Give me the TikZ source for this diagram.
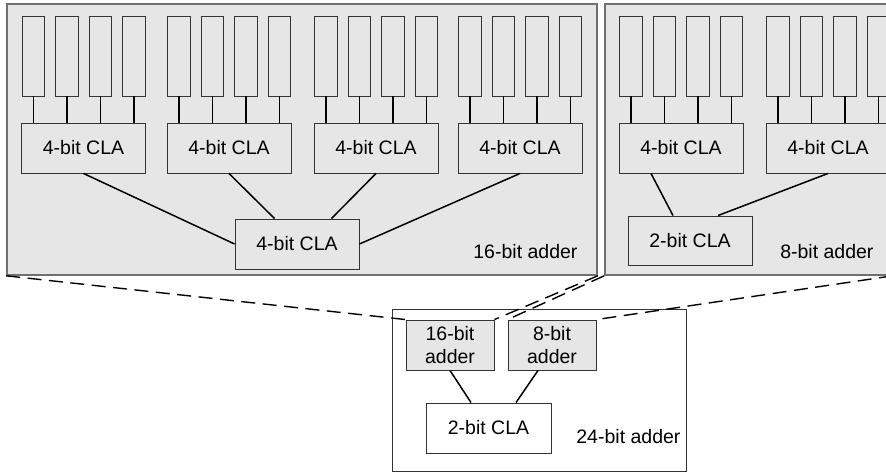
\documentclass[tikz,border=0pt]{standalone}
\usepackage{fontspec}
\setmainfont{Liberation Sans}
\usepackage{xcolor}
\usepackage{tikz}
\usetikzlibrary{shapes,arrows,positioning}

\definecolor{adderfill}{HTML}{E6E6E6}
\definecolor{adderline}{HTML}{707070}
\definecolor{cellline}{HTML}{333333}

\begin{document}
\begin{tikzpicture}[x=1pt, y=-1pt, font=\fontsize{19.5}{23}\selectfont]
    % Define styles
    \tikzstyle{adder} = [rectangle, draw=adderline, line width=1.6pt, fill=adderfill, inner sep=0pt]
    \tikzstyle{cla} = [rectangle, minimum width=124pt, minimum height=50pt, text centered, draw=cellline, line width=0.9pt, fill=adderfill]
    \tikzstyle{bitcell} = [rectangle, minimum width=22.5pt, minimum height=80pt, draw=cellline, line width=0.9pt, fill=adderfill, inner sep=0pt]
    \tikzstyle{sub} = [rectangle, minimum width=88pt, minimum height=50pt, align=center, draw=cellline, line width=0.9pt, fill=adderfill, inner sep=0pt]
    \tikzstyle{wire} = [draw=black, line width=1.5pt]
    \tikzstyle{zoomline} = [draw=black, line width=1.4pt, dash pattern=on 14pt off 7.5pt]

    \path[use as bounding box, clip] (0,0) rectangle (886,472);

    % Adders
    \node[adder, minimum width=590pt, minimum height=271pt] (adder16) at (302,139.5) {};
    \node[adder, minimum width=287pt, minimum height=271pt] (adder8) at (748.5,139.5) {};
    \node[rectangle, draw=cellline, line width=0.9pt, minimum width=294pt, minimum height=162pt] (adder24) at (539,390) {};

    % 4-bit CLA blocks
    \node[cla] (cla_a) at (83.5,148) {4-bit CLA};
    \node[cla] (cla_b) at (229,148) {4-bit CLA};
    \node[cla] (cla_c) at (376,148) {4-bit CLA};
    \node[cla] (cla_d) at (520,148) {4-bit CLA};
    \node[cla] (cla_e) at (681,148) {4-bit CLA};
    \node[cla] (cla_f) at (828,148) {4-bit CLA};

    % Bit cells
    \foreach \g in {a,b,c,d,e,f} {
        \foreach \i/\dx in {1/-50.25, 2/-16.75, 3/16.75, 4/50.25} {
            \node[bitcell] (bit_\g\i) at ([xshift=\dx pt]cla_\g.center |- 0,56) {};
            \draw[wire] (bit_\g\i) -- (bit_\g\i |- cla_\g.north);
        }
    }

    % Second level
    \node[cla] (cla16) at (297,244) {4-bit CLA};
    \node[cla, minimum height=49pt] (cla8) at (690,240.5) {2-bit CLA};
    \node[left] (label16) at (581,252) {16-bit adder};
    \node[left] (label8) at (877,252) {8-bit adder};

    % 24-bit adder
    \node[sub] (sub16) at (450,345) {16-bit\\adder};
    \node[sub] (sub8) at (552,345) {8-bit\\adder};
    \node[cla, fill=white, minimum width=125pt] (cla24) at (488.5,428) {2-bit CLA};
    \node[left] (label24) at (684,437) {24-bit adder};

    % Connections
    \draw[wire] (cla_a.south) -- (cla16.west);
    \draw[wire] (cla_b.south) -- ([xshift=40pt]cla16.north west);
    \draw[wire] (cla_c.south) -- ([xshift=-28pt]cla16.north east);
    \draw[wire] (cla_d.south) -- (cla16.east);
    \draw[wire] ([xshift=-30pt]cla_e.south) -- ([xshift=-17pt]cla8.north);
    \draw[wire] (cla_f.south) -- ([xshift=28pt]cla8.north);
    \draw[wire] (sub16.south) -- ([xshift=-17.5pt]cla24.north);
    \draw[wire] ([xshift=-14pt]sub8.south) -- ([xshift=27.5pt]cla24.north);

    % Zoom lines
    \draw[zoomline] (adder16.south west) -- (sub16.north west);
    \draw[zoomline] (adder16.south east) -- (sub16.north east);
    \draw[zoomline] (adder8.south west) -- (sub8.north west);
    \draw[zoomline] (adder8.south east) -- (sub8.north east);
\end{tikzpicture}
\end{document}
